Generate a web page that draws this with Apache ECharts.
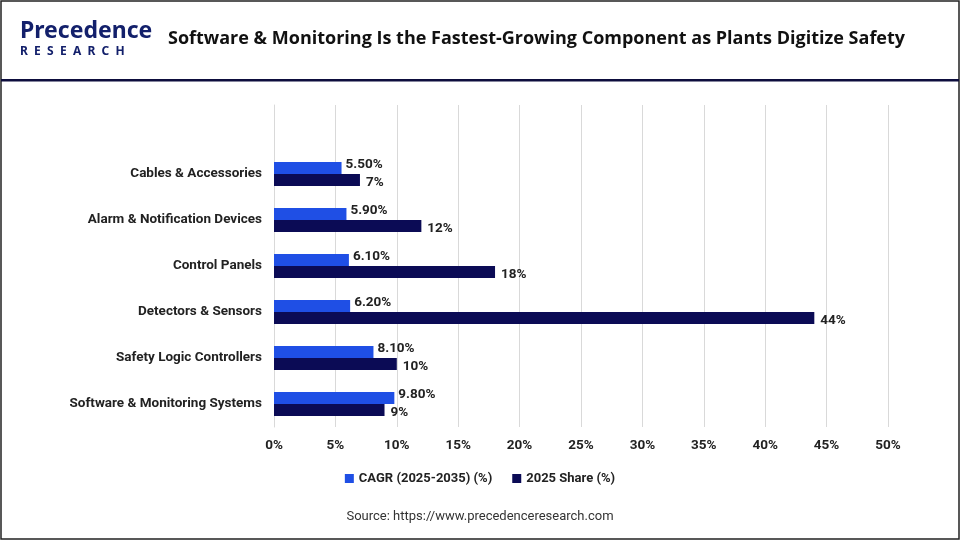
<!DOCTYPE html>
<html>
<head>
<meta charset="utf-8">
<script src="https://cdn.jsdelivr.net/npm/echarts@6/dist/echarts.min.js"></script>
<style>
  html, body { margin: 0; padding: 0; background: #fff; }
  #main { width: 960px; height: 540px; }
</style>
</head>
<body>
<div id="main"></div>
<script>
// top empty slot keeps the gridlines running up like in the original
var categories = ['Software & Monitoring Systems', 'Safety Logic Controllers', 'Detectors & Sensors',
  'Control Panels', 'Alarm & Notification Devices', 'Cables & Accessories', ''];
var cagr = [9.8, 8.1, 6.2, 6.1, 5.9, 5.5, null];
var share = [9, 10, 44, 18, 12, 7, null];

var chart = echarts.init(document.getElementById('main'));
var font = 'Roboto, "Open Sans", Arial, sans-serif';
var option = {
  animation: false,
  graphic: [
    { type: 'rect', shape: { x: 1, y: 1, width: 958, height: 538 }, style: { fill: 'none', stroke: '#222', lineWidth: 1.5 } },
    { type: 'rect', shape: { x: 1, y: 79, width: 958, height: 2.5 }, style: { fill: '#0d0d3d' } },
    { type: 'text', left: 20, top: 20, style: { text: 'Precedence', fill: '#13206b', font: 'bold 23px "Noto Sans", sans-serif' } },
    { type: 'text', left: 20, top: 46, style: { text: 'R  E  S  E  A  R  C  H', fill: '#13206b', font: 'bold 12px "Noto Sans", sans-serif' } },
    { type: 'text', left: 168, top: 30, style: { text: 'Software & Monitoring Is the Fastest-Growing Component as Plants Digitize Safety', fill: '#111', font: 'bold 18px "Open Sans", sans-serif' } },
    { type: 'text', left: 'center', top: 510, style: { text: 'Source: https://www.precedenceresearch.com', fill: '#333', font: '13px ' + font } }
  ],
  legend: {
    top: 467, left: 'center', itemWidth: 9, itemHeight: 9, itemGap: 20,
    textStyle: { fontFamily: font, fontSize: 13, fontWeight: 'bold', color: '#222' },
    data: [{ name: 'CAGR (2025-2035) (%)', icon: 'rect' }, { name: '2025 Share (%)', icon: 'rect' }]
  },
  grid: { left: 274, right: 72, top: 105, bottom: 113 },
  xAxis: {
    type: 'value', min: 0, max: 50, interval: 5,
    axisLabel: { formatter: '{value}%', fontFamily: font, fontSize: 13.5, fontWeight: 'bold', color: '#222', margin: 12 },
    splitLine: { lineStyle: { color: '#d9d9d9' } },
    axisLine: { show: false }, axisTick: { show: false }
  },
  yAxis: {
    type: 'category', data: categories,
    axisLabel: { fontFamily: font, fontSize: 13.5, fontWeight: 'bold', color: '#222', margin: 12 },
    axisLine: { lineStyle: { color: '#d9d9d9' } }, axisTick: { show: false }
  },
  series: [
    {
      name: 'CAGR (2025-2035) (%)', type: 'bar', data: cagr, barWidth: 12, barGap: '0%',
      itemStyle: { color: '#1f4fe5' },
      label: { show: true, position: 'right', distance: 4, offset: [0, -3], formatter: function (p) { return p.value.toFixed(2) + '%'; },
        fontFamily: font, fontSize: 13.5, fontWeight: 'bold', color: '#222' }
    },
    {
      name: '2025 Share (%)', type: 'bar', data: share, barWidth: 12,
      itemStyle: { color: '#0b0b55' },
      label: { show: true, position: 'right', distance: 6, offset: [0, 3], formatter: '{c}%',
        fontFamily: font, fontSize: 13.5, fontWeight: 'bold', color: '#222' }
    }
  ]
};
chart.setOption(option);
window.addEventListener('resize', () => chart.resize());
</script>
</body>
</html>
